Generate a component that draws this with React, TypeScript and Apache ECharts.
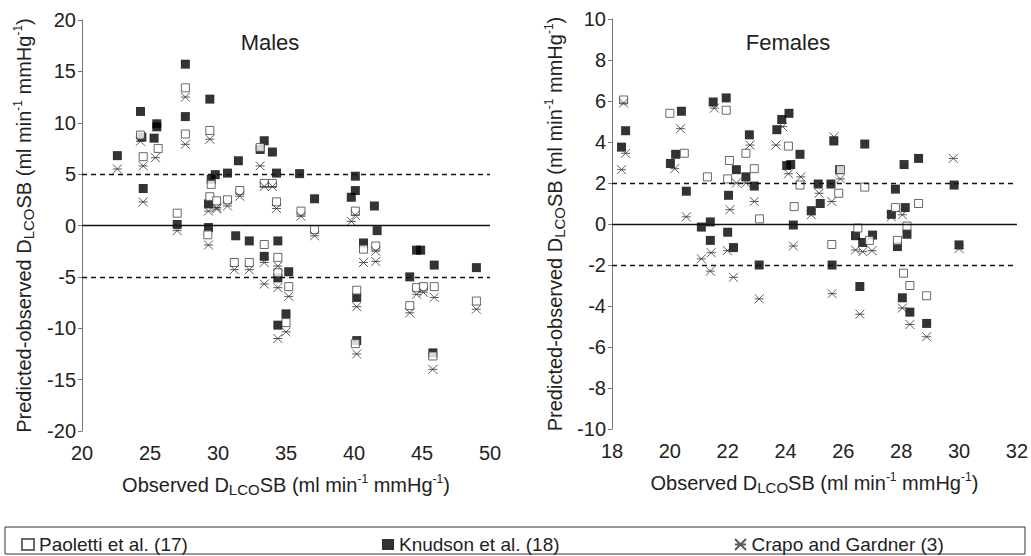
import React, { useEffect, useRef } from "react";
import * as echarts from "echarts";

const malesKnudson: number[][] = [
  [22.6, 6.8], [24.3, 11.1], [24.4, 8.6], [24.5, 3.6], [25.5, 9.9], [25.5, 9.6], [25.3, 8.5],
  [27.0, 0.1], [27.6, 15.7], [27.6, 10.6], [29.3, -0.2], [29.4, 12.3], [29.8, 4.95], [29.5, 4.5],
  [29.3, 2.1], [30.7, 5.1], [31.5, 6.3], [33.1, 7.4], [33.4, 8.25], [34.0, 7.15], [34.3, 5.1],
  [36.0, 5.05], [37.1, 2.6], [39.8, 2.75], [40.1, 4.8], [40.1, 3.4], [31.3, -1.0], [32.3, -1.5],
  [34.4, -1.5], [33.4, -3.0], [35.2, -4.5], [34.4, -5.1], [35.0, -8.6], [34.4, -9.7],
  [40.2, -11.2], [40.2, -7.0], [40.7, -1.7], [41.5, 1.9], [41.7, -0.5], [44.6, -2.4],
  [44.9, -2.4], [45.9, -3.85], [49.0, -4.1], [44.1, -5.0], [45.8, -12.4]
];
const malesPaoletti: number[][] = [
  [27.6, 13.4], [27.6, 8.9], [29.4, 9.25], [24.3, 8.8], [25.6, 7.5], [24.5, 6.7], [27.0, 1.2],
  [29.25, -0.9], [29.5, 4.0], [29.4, 2.8], [29.9, 2.4], [33.1, 7.6], [33.4, 4.1], [34.0, 4.1],
  [31.6, 3.4], [30.7, 2.5], [34.3, 2.3], [36.1, 1.4], [37.1, -0.4], [40.1, 1.4], [33.4, -1.85],
  [34.4, -3.1], [31.2, -3.6], [32.3, -3.6], [34.4, -4.6], [35.2, -5.95], [35.0, -9.45],
  [40.2, -6.3], [40.7, -2.3], [41.6, -2.0], [44.6, -6.05], [45.1, -5.95], [45.9, -5.95],
  [44.1, -7.8], [49.0, -7.35], [40.1, -11.5], [45.8, -12.7]
];
const malesCrapo: number[][] = [
  [22.6, 5.5], [24.3, 8.2], [24.5, 5.8], [24.5, 2.3], [25.4, 6.6], [27.0, -0.5], [27.6, 12.5],
  [27.6, 7.9], [29.4, 8.4], [29.3, 1.4], [29.9, 1.75], [29.3, -1.9], [33.1, 5.8], [34.0, 3.8],
  [33.4, 3.8], [31.6, 2.85], [30.7, 1.9], [29.9, 1.6], [34.3, 1.65], [36.1, 0.9], [37.1, -1.0],
  [39.8, 0.4], [40.1, 1.0], [33.4, -3.6], [34.4, -3.95], [31.2, -4.3], [32.3, -4.3], [33.4, -5.7],
  [34.4, -6.05], [35.2, -6.9], [35.0, -10.35], [34.4, -11.0], [40.2, -12.5], [40.2, -7.9],
  [40.7, -3.6], [41.6, -3.5], [41.6, -2.5], [44.6, -6.7], [45.1, -6.5], [45.9, -7.0],
  [44.1, -8.5], [49.0, -8.15], [45.8, -14.0]
];

const femalesKnudson: number[][] = [
  [18.47, 4.55], [18.33, 3.75], [20.02, 2.95], [20.4, 5.5], [20.2, 3.4], [20.57, 1.6],
  [21.09, -0.15], [21.4, 0.1], [21.5, 5.95], [21.95, 6.15], [22.03, 1.4], [22.0, -0.4],
  [21.4, -0.8], [23.87, 5.1], [24.12, 5.4], [23.7, 4.6], [22.75, 4.35], [22.3, 2.65],
  [22.63, 2.3], [22.92, 1.85], [24.5, 3.4], [24.04, 2.85], [24.18, 2.9], [25.13, 1.95],
  [25.57, 1.95], [25.2, 1.0], [25.67, 4.05], [26.74, 3.9], [25.87, 2.65], [24.89, 0.65],
  [24.27, -0.05], [22.2, -1.15], [23.09, -2.0], [25.61, -2.0], [26.42, -0.57], [26.67, -0.9],
  [27.01, -0.54], [26.57, -3.05], [27.8, 1.7], [28.14, 0.8], [27.66, 0.47], [29.83, 1.9],
  [28.2, -0.5], [27.87, -1.1], [30.0, -1.02], [28.04, -3.6], [28.3, -4.3], [28.88, -4.85],
  [28.6, 3.2], [28.1, 2.9]
];
const femalesPaoletti: number[][] = [
  [18.4, 6.05], [20.0, 5.4], [20.5, 3.45], [21.95, 5.55], [21.3, 2.3], [22.06, 3.1],
  [22.63, 3.45], [22.0, 2.2], [22.92, 2.7], [24.1, 3.8], [24.5, 1.9], [25.9, 2.65],
  [26.74, 1.8], [25.84, 1.5], [24.3, 0.85], [23.1, 0.25], [25.6, -1.0], [27.8, 0.8],
  [28.6, 1.0], [28.2, -0.1], [27.87, -0.8], [28.08, -2.4], [28.3, -3.0], [28.88, -3.5],
  [26.5, -0.2], [26.9, -0.8]
];
const femalesCrapo: number[][] = [
  [18.4, 5.9], [18.47, 3.45], [18.33, 2.65], [20.37, 4.65], [20.17, 2.7], [20.57, 0.35],
  [21.54, 5.65], [21.43, -1.4], [21.09, -1.7], [21.4, -2.3], [21.99, -1.3], [23.9, 4.75],
  [22.77, 3.85], [22.63, 2.0], [22.3, 2.0], [23.67, 3.85], [24.1, 2.45], [24.53, 2.3],
  [25.16, 1.5], [25.6, 1.1], [25.67, 4.25], [25.9, 2.2], [24.89, 0.45], [22.08, 0.7],
  [22.92, 1.1], [22.2, -2.6], [23.09, -3.65], [25.61, -3.4], [24.27, -1.07], [26.42, -1.27],
  [26.67, -1.35], [26.99, -1.3], [26.57, -4.4], [28.04, -4.1], [28.3, -4.9], [28.88, -5.5],
  [30.0, -1.2], [28.04, 0.45], [27.66, 0.35], [29.8, 3.2]
];

const seriesNames = ["Paoletti et al. (17)", "Knudson et al. (18)", "Crapo and Gardner (3)"];
const panelTitles = ["Males", "Females"];
const maleLimits = [5, -5];
const femaleLimits = [2, -2];

const FONT = "Liberation Sans, Arial, sans-serif";
const TXT = "#222";
const STAR = "path://M0,0L10,10M10,0L0,10M0,5L10,5";

const yName = "Predicted-observed D{sub|LCO}SB (ml min{sup|-1} mmHg{sup|-1})";
const xName = "Observed D{sub|LCO}SB (ml min{sup|-1} mmHg{sup|-1})";

const rich = {
  sub: { fontSize: 15, fontFamily: FONT, color: TXT, verticalAlign: "bottom", lineHeight: 24 },
  sup: { fontSize: 12, fontFamily: FONT, color: TXT, verticalAlign: "top", lineHeight: 24 },
};

function refLines(limits: number[]) {
  return {
    silent: true,
    symbol: "none",
    label: { show: false },
    data: [
      { yAxis: 0, lineStyle: { type: "solid", color: "#111", width: 1.3 } },
      { yAxis: limits[0], lineStyle: { type: [5, 4], color: "#111", width: 1.3 } },
      { yAxis: limits[1], lineStyle: { type: [5, 4], color: "#111", width: 1.3 } },
    ],
  };
}

export default function App() {
  const ref = useRef<HTMLDivElement>(null);
  useEffect(() => {
    if (!ref.current) return;
    const chart = echarts.init(ref.current, null, { renderer: "svg" });
    const axisLabel = { fontSize: 20, color: TXT, fontFamily: FONT };
    const nameStyle = { fontSize: 20, color: TXT, fontFamily: FONT, lineHeight: 24, rich };
    const yAxisCommon = {
      type: "value",
      axisLine: { show: true, lineStyle: { color: "#777", width: 1 } },
      axisTick: { show: true, length: 4, lineStyle: { color: "#777" } },
      splitLine: { show: false },
      nameLocation: "middle",
      nameTextStyle: nameStyle,
      axisLabel: { ...axisLabel, margin: 6 },
    };
    const xAxisCommon = {
      type: "value",
      axisLine: { show: false },
      axisTick: { show: false },
      splitLine: { show: false },
      nameLocation: "middle",
      nameGap: 42,
      nameTextStyle: nameStyle,
      axisLabel: { ...axisLabel, margin: 12 },
    };
    const openStyle = { color: "#fff", borderColor: "#444", borderWidth: 1 };
    const filledStyle = { color: "#000" };
    const starStyle = { color: "transparent", borderColor: "#333", borderWidth: 1 };
    const mk = (name: string, data: number[][], idx: number, kind: number, limits?: number[]) => {
      const base: any = {
        name,
        type: "scatter",
        xAxisIndex: idx,
        yAxisIndex: idx,
        data,
        z: kind === 1 ? 3 : 4,
      };
      if (kind === 0) {
        base.symbol = "rect";
        base.symbolSize = 8;
        base.itemStyle = openStyle;
      } else if (kind === 1) {
        base.symbol = "rect";
        base.symbolSize = 9;
        base.itemStyle = filledStyle;
      } else {
        base.symbol = STAR;
        base.symbolSize = 9;
        base.itemStyle = starStyle;
      }
      if (limits) base.markLine = refLines(limits);
      return base;
    };
    const titleStyle = { fontSize: 22, fontWeight: "normal", color: TXT, fontFamily: FONT };
    chart.setOption({
      animation: false,
      backgroundColor: "#fff",
      title: [
        { text: panelTitles[0], left: 265, top: 26, textAlign: "center", textStyle: titleStyle },
        { text: panelTitles[1], left: 783, top: 26, textAlign: "center", textStyle: titleStyle },
      ],
      grid: [
        { left: 82, right: 541, top: 20, bottom: 125 },
        { left: 612, right: 12, top: 19, bottom: 127 },
      ],
      xAxis: [
        { ...xAxisCommon, gridIndex: 0, min: 20, max: 50, interval: 5, name: xName },
        { ...xAxisCommon, gridIndex: 1, min: 18, max: 32, interval: 2, name: xName },
      ],
      yAxis: [
        { ...yAxisCommon, gridIndex: 0, min: -20, max: 20, interval: 5, name: yName, nameGap: 46 },
        { ...yAxisCommon, gridIndex: 1, min: -10, max: 10, interval: 2, name: yName, nameGap: 45 },
      ],
      legend: [0, 1, 2].map((i) => ({
        data: [seriesNames[i]],
        left: [16, 377, 729][i],
        top: 530,
        itemWidth: 12,
        itemHeight: 11,
        itemGap: 6,
        textStyle: { fontSize: 19, color: TXT, fontFamily: FONT },
      })),
      graphic: [
        {
          type: "rect",
          shape: { x: 5, y: 527, width: 1020, height: 27 },
          style: { fill: "none", stroke: "#333", lineWidth: 1 },
          silent: true,
        },
      ],
      series: [
        mk(seriesNames[1], malesKnudson, 0, 1, maleLimits),
        mk(seriesNames[0], malesPaoletti, 0, 0),
        mk(seriesNames[2], malesCrapo, 0, 2),
        mk(seriesNames[1], femalesKnudson, 1, 1, femaleLimits),
        mk(seriesNames[0], femalesPaoletti, 1, 0),
        mk(seriesNames[2], femalesCrapo, 1, 2),
      ],
    });
    return () => chart.dispose();
  }, []);
  return (
    <div
      ref={ref}
      style={{ position: "fixed", left: 0, top: 0, width: 1031, height: 556, background: "#fff" }}
    />
  );
}
